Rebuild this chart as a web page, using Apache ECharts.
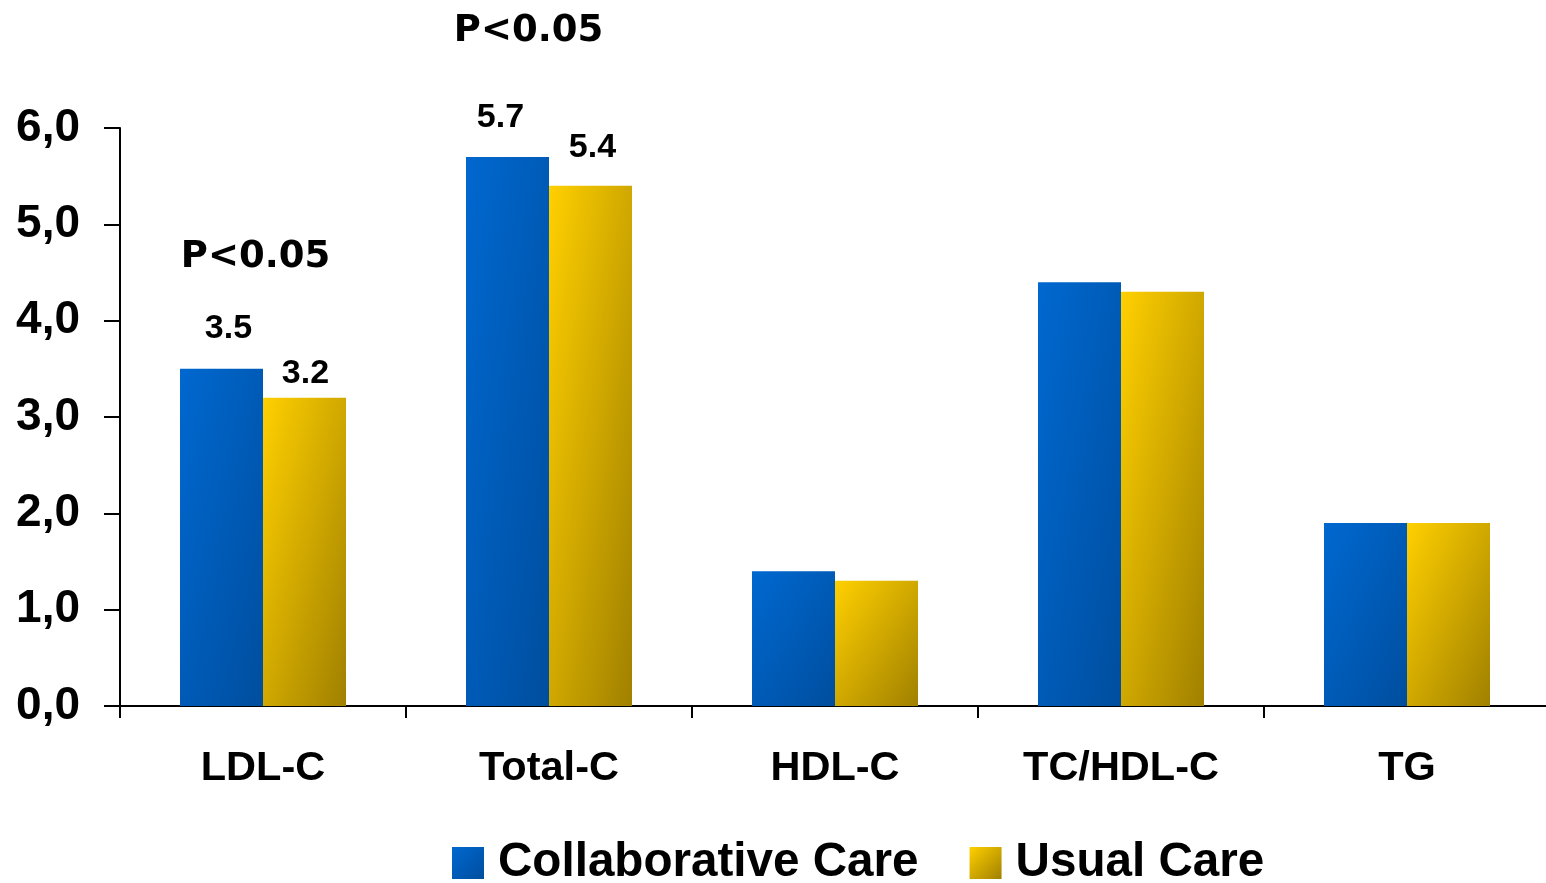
<!DOCTYPE html>
<html>
<head>
<meta charset="utf-8">
<script src="https://cdn.jsdelivr.net/npm/echarts@6/dist/echarts.min.js"></script>
<style>
  html, body { margin: 0; padding: 0; background: #fff; overflow: hidden; }
  #chart { width: 1550px; height: 883px; }
</style>
</head>
<body>
<div id="chart"></div>
<script>
// Lipid outcomes, mmol/L
const categories = ['LDL-C', 'Total-C', 'HDL-C', 'TC/HDL-C', 'TG'];
const collaborativeCare = [3.5, 5.7, 1.4, 4.4, 1.9];
const usualCare = [3.2, 5.4, 1.3, 4.3, 1.9];
const seriesNames = ['Collaborative Care', 'Usual Care'];
const yTicks = { min: 0, max: 6, interval: 1 };
// significance notes per category (category, text)
const significance = [['LDL-C', 'P<0.05'], ['Total-C', 'P<0.05']];
// categories whose bars carry value labels
const labelled = ['LDL-C', 'Total-C'];

const FONT = '"Liberation Sans", Arial, sans-serif';
const GRID = { left: 120, top: 128, bottom: 177, right: 0 };
const BAR_W = 83;
const PLOT_H = 883 - GRID.top - GRID.bottom;

const blueStops = [{ offset: 0, color: '#0068D0' }, { offset: 1, color: '#004E9E' }];
const goldStops = [{ offset: 0, color: '#FFD000' }, { offset: 1, color: '#A08000' }];

// Diagonal fill that runs corner to corner of each bar, so the colour bands
// follow the bar's anti-diagonal whatever its height.
function diagonalFill(stops) {
  return function (p) {
    const w = BAR_W;
    const h = Math.max(p.value / yTicks.max * PLOT_H, 1);
    const a = 0.5 / w, b = 0.5 / h, d = a * a + b * b;
    return new echarts.graphic.LinearGradient(0, 0, (a / d) / w, (b / d) / h, stops);
  };
}
const squareFill = stops => new echarts.graphic.LinearGradient(0, 0, 1, 1, stops);

// per-bar label nudges
const blueLabelOffset = { 'LDL-C': [7, -18], 'Total-C': [-7, -17] };
const goldLabelOffset = { 'LDL-C': [1, -2], 'Total-C': [2, -16] };
// P-value note placement relative to the collaborative bar top
const noteOffset = { 'LDL-C': [34, -111], 'Total-C': [21, -126] };

function barData(values, offsets) {
  return values.map((v, i) => {
    const cat = categories[i];
    const show = labelled.includes(cat);
    return {
      value: v,
      label: { show: show, offset: show ? offsets[cat] : [0, 0] }
    };
  });
}

const chart = echarts.init(document.getElementById('chart'), null, { renderer: 'canvas' });

chart.setOption({
  animation: false,
  backgroundColor: '#ffffff',
  grid: Object.assign({ containLabel: false }, GRID),
  legend: {
    left: 452,
    top: 839,
    padding: 0,
    itemWidth: 32,
    itemHeight: 32,
    itemGap: 51,
    icon: 'rect',
    textStyle: { fontFamily: FONT, fontWeight: 'bold', fontSize: 47.6, color: '#000', padding: [0, 0, 0, 9] },
    data: [
      { name: seriesNames[0], itemStyle: { color: squareFill(blueStops) } },
      { name: seriesNames[1], itemStyle: { color: squareFill(goldStops) } }
    ]
  },
  xAxis: {
    type: 'category',
    data: categories,
    axisLine: { lineStyle: { color: '#000', width: 2 } },
    axisTick: { show: true, length: 12, lineStyle: { color: '#000', width: 2 } },
    axisLabel: { fontFamily: FONT, fontWeight: 'bold', fontSize: 41.5, color: '#000', margin: 42 }
  },
  yAxis: {
    type: 'value',
    min: yTicks.min,
    max: yTicks.max,
    interval: yTicks.interval,
    splitLine: { show: false },
    axisLine: { show: true, lineStyle: { color: '#000', width: 2 } },
    axisTick: { show: true, length: 16, lineStyle: { color: '#000', width: 2 } },
    axisLabel: {
      fontFamily: FONT, fontWeight: 'bold', fontSize: 46, color: '#000', margin: 40,
      formatter: v => v.toFixed(1).replace('.', ',')
    }
  },
  series: [
    {
      name: seriesNames[0],
      type: 'bar',
      barWidth: BAR_W,
      barGap: '0%',
      itemStyle: { color: diagonalFill(blueStops) },
      label: {
        position: 'top', fontFamily: FONT, fontWeight: 'bold', fontSize: 34, color: '#000',
        formatter: p => p.value.toFixed(1)
      },
      data: barData(collaborativeCare, blueLabelOffset),
      markPoint: {
        symbol: 'rect',
        symbolSize: 0,
        label: {
          show: true, position: 'inside', fontFamily: '"DejaVu Sans", sans-serif',
          fontWeight: 'bold', fontSize: 37, color: '#000', formatter: p => p.name
        },
        data: significance.map(([cat, txt]) => ({
          name: txt,
          coord: [cat, collaborativeCare[categories.indexOf(cat)]],
          label: { offset: noteOffset[cat] }
        }))
      }
    },
    {
      name: seriesNames[1],
      type: 'bar',
      barWidth: BAR_W,
      itemStyle: { color: diagonalFill(goldStops) },
      label: {
        position: 'top', fontFamily: FONT, fontWeight: 'bold', fontSize: 34, color: '#000',
        formatter: p => p.value.toFixed(1)
      },
      data: barData(usualCare, goldLabelOffset)
    }
  ]
});
</script>
</body>
</html>
